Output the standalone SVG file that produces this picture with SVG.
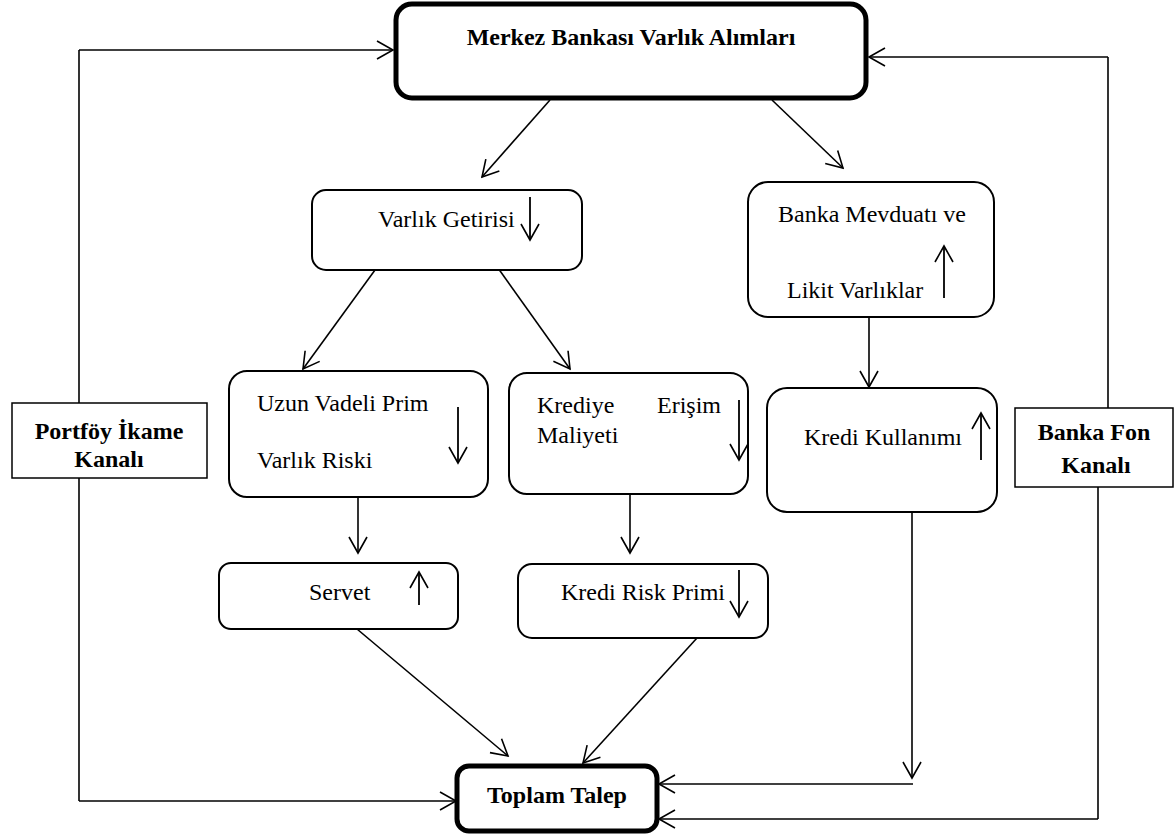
<svg xmlns="http://www.w3.org/2000/svg" width="1175" height="835" viewBox="0 0 1175 835">
<style>
  .box{fill:#fff;stroke:#000;stroke-width:2}
  .thick{fill:#fff;stroke:#000;stroke-width:5}
  .rect{fill:#fff;stroke:#000;stroke-width:1.5}
  .t{font-family:"Liberation Serif","Times New Roman",serif;font-size:24px;fill:#000}
  .b{font-family:"Liberation Serif","Times New Roman",serif;font-size:24px;font-weight:bold;fill:#000}
  .c{fill:none;stroke:#000;stroke-width:1.6}
  .a{fill:none;stroke:#000;stroke-width:1.6;marker-end:url(#v)}
  .ia{fill:none;stroke:#000;stroke-width:1.8;marker-end:url(#v)}
</style>
<defs>
  <marker id="v" viewBox="0 0 20 20" refX="18" refY="10" markerWidth="20" markerHeight="20" markerUnits="userSpaceOnUse" orient="auto">
    <path d="M2,1 L18,10 L2,19" fill="none" stroke="#000" stroke-width="1.6"/>
  </marker>
</defs>
<rect width="1175" height="835" fill="#fff"/>

<g id="connectors">
  <line class="a" x1="550" y1="100" x2="482" y2="177"/>
  <line class="a" x1="772" y1="100" x2="843" y2="168"/>
  <line class="a" x1="375" y1="270" x2="303" y2="369"/>
  <line class="a" x1="498" y1="268" x2="570" y2="369"/>
  <line class="a" x1="869" y1="317" x2="869" y2="387"/>
  <line class="a" x1="358" y1="497" x2="358" y2="553"/>
  <line class="a" x1="630" y1="494" x2="630" y2="553"/>
  <line class="a" x1="357" y1="629" x2="508" y2="756"/>
  <line class="a" x1="697" y1="638" x2="583" y2="763"/>
  <line class="a" x1="912" y1="512" x2="912" y2="778"/>
  <line class="a" x1="913" y1="784" x2="659" y2="784"/>
  <polyline class="c" points="79,403 79,50"/>
  <line class="a" x1="79" y1="50" x2="393" y2="50"/>
  <polyline class="c" points="79,478 79,801"/>
  <line class="a" x1="79" y1="801" x2="456" y2="801"/>
  <polyline class="c" points="1108,408 1108,57"/>
  <line class="a" x1="1108" y1="57" x2="869" y2="57"/>
  <polyline class="c" points="1098,487 1098,819"/>
  <line class="a" x1="1098" y1="819" x2="659" y2="819"/>
</g>

<g id="merkez">
  <rect class="thick" x="396" y="4" width="470" height="94" rx="16"/>
  <text class="b" x="631" y="45" text-anchor="middle">Merkez Bankası Varlık Alımları</text>
</g>

<g id="varlik-getirisi">
  <rect class="box" x="312" y="190" width="270" height="80" rx="14"/>
  <text class="t" x="378" y="227">Varlık Getirisi</text>
  <line class="ia" x1="530" y1="197" x2="530" y2="240"/>
</g>

<g id="banka-mevduati">
  <rect class="box" x="748" y="182" width="246" height="135" rx="20"/>
  <text class="t" x="778" y="222">Banka Mevduatı ve</text>
  <text class="t" x="787" y="298">Likit Varlıklar</text>
  <line class="ia" x1="944" y1="298" x2="944" y2="246"/>
</g>

<g id="uzun-vadeli">
  <rect class="box" x="229" y="371" width="259" height="126" rx="18"/>
  <text class="t" x="257" y="411">Uzun Vadeli Prim</text>
  <text class="t" x="257" y="468">Varlık Riski</text>
  <line class="ia" x1="458" y1="407" x2="458" y2="463"/>
</g>

<g id="krediye-erisim">
  <rect class="box" x="509" y="373" width="239" height="121" rx="18"/>
  <text class="t" x="537" y="413">Krediye</text>
  <text class="t" x="657" y="413">Erişim</text>
  <text class="t" x="537" y="443">Maliyeti</text>
  <line class="ia" x1="739" y1="400" x2="739" y2="460"/>
</g>

<g id="kredi-kullanimi">
  <rect class="box" x="767" y="388" width="230" height="124" rx="20"/>
  <text class="t" x="804" y="445">Kredi Kullanımı</text>
  <line class="ia" x1="981" y1="460" x2="981" y2="413"/>
</g>

<g id="servet">
  <rect class="box" x="219" y="563" width="239" height="66" rx="12"/>
  <text class="t" x="309" y="600">Servet</text>
  <line class="ia" x1="419" y1="605" x2="419" y2="572"/>
</g>

<g id="kredi-risk-primi">
  <rect class="box" x="518" y="564" width="250" height="74" rx="14"/>
  <text class="t" x="561" y="600">Kredi Risk Primi</text>
  <line class="ia" x1="739" y1="570" x2="739" y2="617"/>
</g>

<g id="portfoy-ikame">
  <rect class="rect" x="12" y="403" width="195" height="75"/>
  <text class="b" x="109" y="439" text-anchor="middle">Portföy İkame</text>
  <text class="b" x="109" y="467" text-anchor="middle">Kanalı</text>
</g>

<g id="banka-fon">
  <rect class="rect" x="1015" y="408" width="158" height="79"/>
  <text class="b" x="1094" y="440" text-anchor="middle">Banka Fon</text>
  <text class="b" x="1096" y="473" text-anchor="middle">Kanalı</text>
</g>

<g id="toplam-talep">
  <rect class="thick" x="457" y="766" width="200" height="65" rx="12"/>
  <text class="b" x="557" y="803" text-anchor="middle">Toplam Talep</text>
</g>
</svg>
